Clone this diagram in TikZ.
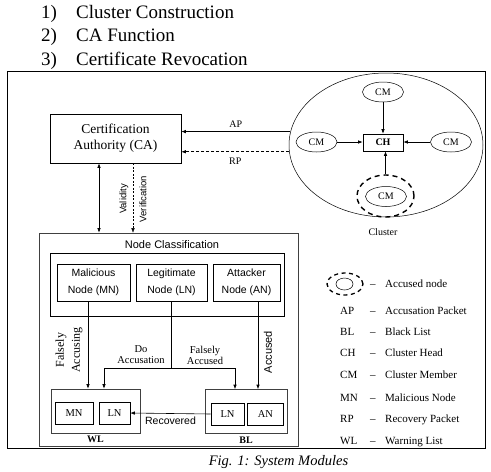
\documentclass[tikz,border=0pt]{standalone}
\usepackage{fontspec}
\setmainfont{Liberation Serif}
\setsansfont{Liberation Sans}
\usetikzlibrary{arrows.meta, positioning, shapes.geometric}

\tikzset{
    box/.style={draw, line width=0.6pt, inner sep=0pt},
    serifbox/.style={box, font=\rmfamily\fontsize{10.5}{12}\selectfont},
    classbox/.style={box, minimum height=37pt, align=center, font=\sffamily\fontsize{10.5}{16.5}\selectfont},
    member/.style={draw, ellipse, line width=0.5pt, minimum width=41pt, minimum height=20pt, inner sep=0pt, font=\rmfamily\fontsize{10}{12}\selectfont},
    accused/.style={draw, ellipse, line width=1.4pt, dash pattern=on 5pt off 4pt, inner sep=0pt},
    arr/.style={-{Latex[length=4.5pt, width=3.5pt]}, line width=0.6pt},
    lbl/.style={align=center, font=\rmfamily\fontsize{10.5}{11}\selectfont},
    legend/.style={anchor=base west, font=\rmfamily\fontsize{11}{13}\selectfont},
    modlist/.style={anchor=base west, font=\rmfamily\fontsize{19}{22}\selectfont},
}

\begin{document}
\begin{tikzpicture}[x=1pt, y=-1pt, every node/.style={inner sep=0pt, font=\rmfamily\fontsize{10}{12}\selectfont}]
    \useasboundingbox (0,0) rectangle (491,472);

    % Module list
    \node[modlist] (num1) at (41,18) {1)};
    \node[modlist] (mod1) at (76,18) {Cluster Construction};
    \node[modlist] (num2) at (41,41.5) {2)};
    \node[modlist] (mod2) at (76,41.5) {CA Function};
    \node[modlist] (num3) at (41,65) {3)};
    \node[modlist] (mod3) at (76,65) {Certificate Revocation};

    % Frame
    \draw[line width=0.9pt] (7,71) rectangle (485,448);

    % Certification authority
    \node[box, minimum width=131pt, minimum height=49pt, align=center, font=\rmfamily\fontsize{13.5}{16}\selectfont] (ca) at (115.5,138.5) {Certification\\Authority (CA)};

    % Cluster
    \node[draw, ellipse, line width=0.5pt, minimum width=194pt, minimum height=144pt] (cluster) at (386,145) {};
    \node[box, minimum width=40pt, minimum height=17pt, font=\rmfamily\bfseries\fontsize{10}{12}\selectfont] (ch) at (383,142.5) {CH};
    \node[member] (cmtop) at (383,92) {CM};
    \node[member] (cmleft) at (316.5,142) {CM};
    \node[member] (cmright) at (451,142) {CM};
    \node[member] (cmbot) at (386,196.5) {CM};
    \node[accused, minimum width=57pt, minimum height=42pt] (ring) at (385.5,196) {};
    \node (clusterlbl) at (383,232) {Cluster};

    \draw[arr] (cmtop) -- (ch);
    \draw[arr] (cmleft.east) -- (cmleft.east -| ch.west);
    \draw[arr] (cmright.west) -- (cmright.west -| ch.east);
    \draw[arr] (ring.north) -- (ring.north |- ch.south);

    % Packets to CA
    \draw[arr] (cluster.172) -- (cluster.172 -| ca.east) node[midway, above=4pt] (aplbl) {AP};
    \draw[arr, dash pattern=on 3pt off 2pt] (cluster.184) -- (cluster.184 -| ca.east) node[midway, below=6pt] (rplbl) {RP};

    % Node classification
    \node[draw=black!75, line width=0.6pt, minimum width=259pt, minimum height=213pt] (nc) at (168.5,339.5) {};
    \node[font=\sffamily\fontsize{11}{13}\selectfont] (nctitle) at (172,245) {Node Classification};
    \node[box, minimum width=234pt, minimum height=63pt] (group) at (167,284.5) {};
    \node[classbox, minimum width=73pt] (mal) at (93.5,282.5) {Malicious\\Node (MN)};
    \node[classbox, minimum width=71pt] (leg) at (171.5,282.5) {Legitimate\\Node (LN)};
    \node[classbox, minimum width=67pt] (att) at (246.5,282.5) {Attacker\\Node (AN)};

    % CA and classification
    \draw[{Latex[length=4.5pt, width=3.5pt]}-{Latex[length=4.5pt, width=3.5pt]}, line width=0.6pt] ([xshift=-16.5pt]ca.south) -- ([xshift=-16.5pt]ca.south |- nc.north);
    \draw[arr, dash pattern=on 2pt off 1.5pt, line width=0.4pt] ([xshift=17.5pt]ca.south) -- ([xshift=17.5pt]ca.south |- nc.north);
    \node[rotate=90, align=center, font=\sffamily\fontsize{9.5}{20}\selectfont] (vvlbl) at (133,199) {Validity\\Verification};

    % Warning and black lists
    \node[box, draw=black!75, minimum width=89pt, minimum height=44pt] (wl) at (95.5,411) {};
    \node[serifbox, minimum width=38pt, minimum height=22pt] (wlmn) at (74,413) {MN};
    \node[serifbox, minimum width=31pt, minimum height=22pt] (wlln) at (114.5,413) {LN};
    \node[box, draw=black!75, minimum width=82pt, minimum height=44pt] (bl) at (246,411.5) {};
    \node[serifbox, minimum width=33pt, minimum height=22pt] (blln) at (227.5,414) {LN};
    \node[serifbox, minimum width=36pt, minimum height=22pt] (blan) at (265.5,414) {AN};
    \node[below=2.5pt of wl, font=\rmfamily\bfseries\fontsize{10}{12}\selectfont] (wllbl) {WL};
    \node[below=2.5pt of bl, font=\rmfamily\bfseries\fontsize{10}{12}\selectfont] (bllbl) {BL};

    % Classification flows
    \draw[arr] ([xshift=-5.5pt]mal.south) -- ([xshift=-5.5pt]mal.south |- wl.north);
    \draw[arr] ([xshift=11.5pt]att.south) -- ([xshift=11.5pt]att.south |- bl.north);
    \coordinate (split) at (171.5,368);
    \draw[line width=0.6pt] (leg.south) -- (split);
    \draw[arr] (split) -| ([xshift=8.5pt]wl.north);
    \draw[arr] (split) -| ([xshift=-11pt]bl.north);
    \draw[arr] (blln.west) -- (wlln.east) node[midway, below=3pt, font=\sffamily\fontsize{10.5}{12}\selectfont] (reclbl) {Recovered};

    % Flow labels
    \node[rotate=90, align=center, font=\rmfamily\fontsize{12}{16}\selectfont] (falacc) at (69,350) {Falsely\\Accusing};
    \node[lbl] (doacc) at (141,355) {Do\\Accusation};
    \node[lbl] (falsed) at (205,355) {Falsely\\Accused};
    \node[rotate=90, font=\sffamily\fontsize{11}{13}\selectfont] (accl) at (268,352) {Accused};

    % Legend
    \node[accused, line width=1.3pt, dash pattern=on 4pt off 3.5pt, minimum width=36pt, minimum height=22pt] (keyring) at (345,284) {};
    \node[draw, ellipse, line width=0.5pt, minimum width=17pt, minimum height=12pt] (keynode) at (344.5,284) {};
    \node[legend] (keyacc) at (370,287) {\makebox[15pt][l]{--}Accused node};
    \node[legend] (keyap) at (340,314.5) {\makebox[30pt][l]{AP}\makebox[15pt][l]{--}Accusation Packet};
    \node[legend] (keybl) at (340,335.5) {\makebox[30pt][l]{BL}\makebox[15pt][l]{--}Black List};
    \node[legend] (keych) at (340,356.5) {\makebox[30pt][l]{CH}\makebox[15pt][l]{--}Cluster Head};
    \node[legend] (keycm) at (340,378.5) {\makebox[30pt][l]{CM}\makebox[15pt][l]{--}Cluster Member};
    \node[legend] (keymn) at (340,401.5) {\makebox[30pt][l]{MN}\makebox[15pt][l]{--}Malicious Node};
    \node[legend] (keyrp) at (340,422.5) {\makebox[30pt][l]{RP}\makebox[15pt][l]{--}Recovery Packet};
    \node[legend] (keywl) at (340,444) {\makebox[30pt][l]{WL}\makebox[15pt][l]{--}Warning List};

    % Caption
    \node[anchor=base, font=\rmfamily\itshape\fontsize{14.5}{17}\selectfont] (caption) at (278.5,465) {Fig. 1: System Modules};
\end{tikzpicture}
\end{document}
